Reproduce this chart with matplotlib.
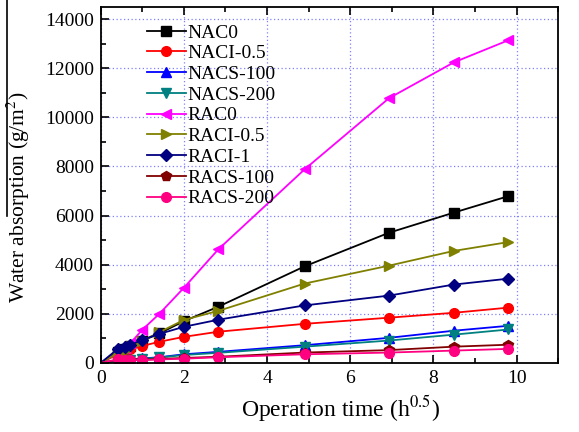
import matplotlib
matplotlib.use("Agg")
import matplotlib.pyplot as plt
from matplotlib.lines import Line2D

plt.rcParams['font.family'] = ['Liberation Serif', 'DejaVu Serif']
plt.rcParams['mathtext.fontset'] = 'stix'

# sqrt of hours: 0, 1/6, 1/3, 1/2, 1, 2, 4, 8, 24, 48, 72, 96 h
t = [0, 0.41, 0.58, 0.71, 1.0, 1.41, 2.0, 2.83, 4.90, 6.93, 8.49, 9.80]

names = ["NAC0", "NACI-0.5", "NACS-100", "NACS-200", "RAC0",
         "RACI-0.5", "RACI-1", "RACS-100", "RACS-200"]

nac0 = [0, 450, 550, 700, 900, 1200, 1700, 2290, 3930, 5300, 6120, 6790]
naci05 = [0, 350, 450, 550, 690, 860, 1060, 1270, 1590, 1840, 2040, 2250]
nacs100 = [0, 90, 110, 130, 180, 230, 350, 450, 720, 1020, 1310, 1510]
nacs200 = [0, 80, 100, 120, 160, 220, 320, 410, 660, 910, 1150, 1360]
rac0 = [0, 400, 600, 800, 1350, 2000, 3060, 4630, 7880, 10780, 12240, 13140]
raci05 = [0, 400, 500, 700, 900, 1250, 1750, 2120, 3230, 3960, 4560, 4920]
raci1 = [0, 570, 650, 730, 940, 1180, 1470, 1760, 2340, 2740, 3190, 3430]
racs100 = [0, 130, 120, 130, 130, 160, 200, 250, 420, 520, 660, 740]
racs200 = [0, 140, 120, 120, 110, 140, 170, 230, 350, 420, 500, 570]

series = [nac0, naci05, nacs100, nacs200, rac0, raci05, raci1, racs100, racs200]
colors = ["black", "red", "blue", "#008080", "#ff00ff",
          "#808000", "#000080", "#800000", "#ff0080"]
markers = ["s", "o", "^", "v", "<", ">", "D", "p", "o"]

fig = plt.figure(figsize=(5.79, 4.32), dpi=100)
ax = fig.add_axes([0.174, 0.16, 0.79, 0.824])

for y, name, c, m in zip(series, names, colors, markers):
    ms = 6 if m == "D" else 7
    ax.plot(t, y, color=c, marker=m, markersize=ms, linewidth=1.3, label=name,
            markevery=list(range(1, len(t))))

ax.set_xlim(0, 11)
ax.set_ylim(0, 14500)
ax.set_xticks([0, 2, 4, 6, 8, 10])
ax.set_xticks([1, 3, 5, 7, 9, 11], minor=True)
ax.set_yticks(range(0, 14001, 2000))
ax.set_yticks(range(1000, 14001, 2000), minor=True)
ax.grid(True, which="major", color="#8080ff", linestyle=(0, (1, 2)), linewidth=0.9)
ax.tick_params(which="both", direction="out", labelsize=14, width=1.2, pad=5)
ax.tick_params(which="major", length=6)
ax.tick_params(which="minor", length=3.5)
ax.tick_params(top=True, which="both", direction="in")
for s in ax.spines.values():
    s.set_linewidth(1.3)

ax.set_xlabel("Operation time (h$^{0.5}$)", fontsize=17, labelpad=1)
ax.xaxis.set_label_coords(0.525, -0.085)
ax.set_ylabel("Water absorption (g/m$^2$)", fontsize=15.5)
ax.yaxis.set_label_coords(-0.15, 0.465)

ax.legend(loc="upper left", bbox_to_anchor=(0.075, 0.985), frameon=False,
          fontsize=14, handlelength=2.0, labelspacing=0.16, handletextpad=0.1,
          borderaxespad=0.2)

fig.add_artist(Line2D([0.012, 0.012], [0.5, 1.0], color="black", linewidth=1.2,
                      transform=fig.transFigure))

fig.savefig("out.png", dpi=100)
